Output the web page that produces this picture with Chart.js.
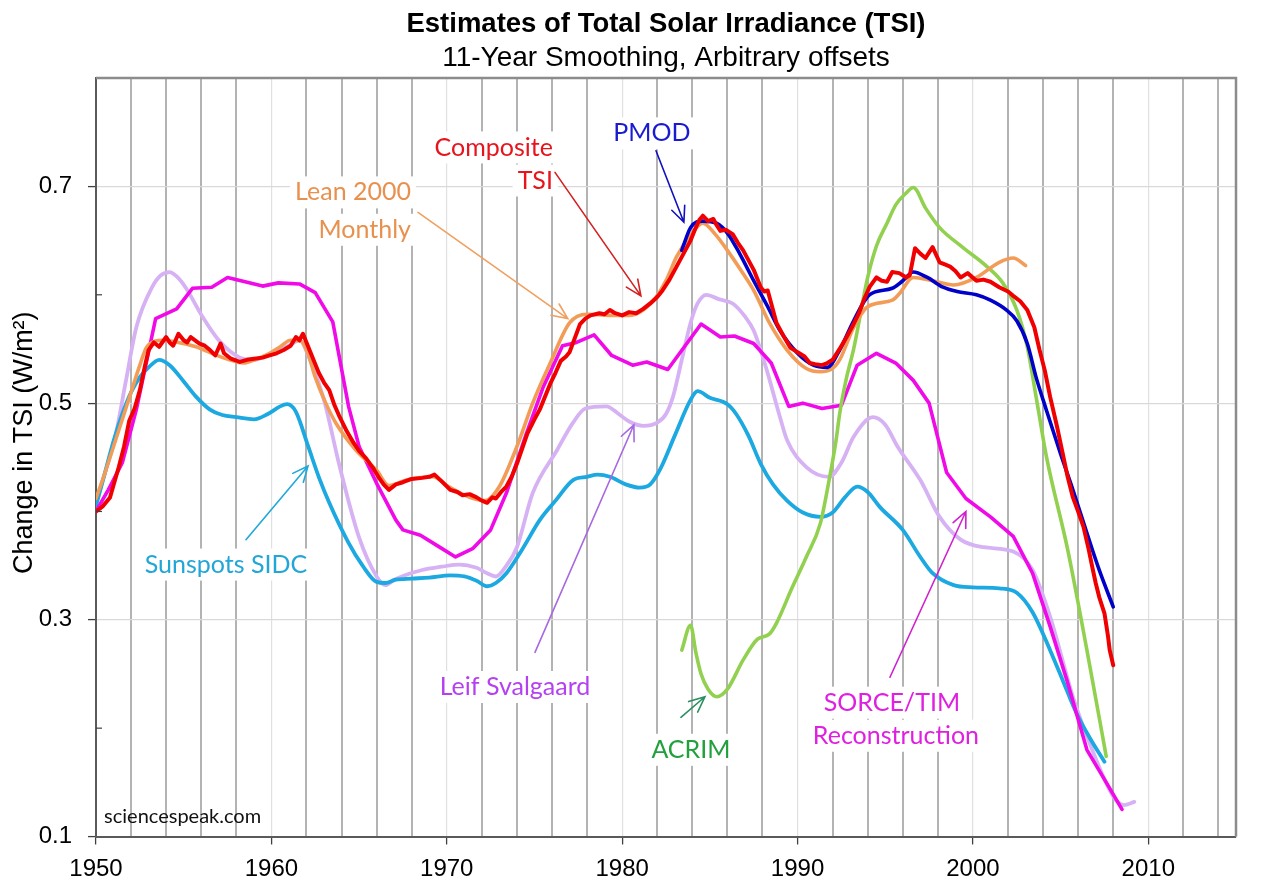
<!DOCTYPE html>
<html>
<head>
<meta charset="utf-8">
<title>Estimates of Total Solar Irradiance (TSI)</title>
<script src="https://cdn.jsdelivr.net/npm/chart.js@4.4.1/dist/chart.umd.min.js"></script>
<style>
  html, body { margin: 0; padding: 0; background: #ffffff; }
  #wrap { width: 1280px; height: 886px; }
</style>
</head>
<body>
<div id="wrap"><canvas id="chart" width="1280" height="886"></canvas></div>
<script>
// ---------------- data ----------------
const xTickLabels = ['1950', '1960', '1970', '1980', '1990', '2000', '2010'];
const yTickLabels = ['0.1', '0.3', '0.5', '0.7'];

const compositeYears = [1950, 1950.4, 1950.8, 1951.1, 1951.3, 1951.6, 1951.9, 1952.2, 1952.5, 1952.8, 1953, 1953.3, 1953.6, 1954, 1954.2, 1954.4, 1954.7, 1955, 1955.2, 1955.4, 1955.9, 1956.2, 1956.5, 1956.8, 1957.1, 1957.3, 1957.7, 1958.2, 1958.6, 1959, 1959.5, 1959.9, 1960.3, 1960.7, 1961.1, 1961.4, 1961.6, 1961.8, 1962.1, 1962.4, 1962.7, 1963, 1963.3, 1963.6, 1963.9, 1964.3, 1964.7, 1965, 1965.4, 1965.8, 1966.1, 1966.4, 1966.7, 1967.1, 1967.5, 1968, 1968.6, 1969, 1969.3, 1969.7, 1970.2, 1970.6, 1970.9, 1971.3, 1971.7, 1972, 1972.3, 1972.6, 1972.8, 1973.1, 1973.4, 1973.7, 1974, 1974.3, 1974.6, 1975, 1975.3, 1975.6, 1975.9, 1976.2, 1976.5, 1976.8, 1977, 1977.3, 1977.6, 1977.9, 1978.2, 1978.7, 1979, 1979.3, 1979.6, 1980, 1980.4, 1980.8, 1981.2, 1981.6, 1982, 1982.3, 1982.7, 1983.1, 1983.5, 1983.9, 1984.2, 1984.4, 1984.6, 1984.9, 1985.2, 1985.4, 1985.6, 1985.9, 1986.3, 1986.6, 1986.9, 1987.2, 1987.5, 1987.9, 1988.1, 1988.3, 1988.5, 1988.8, 1989.2, 1989.6, 1989.9, 1990.1, 1990.4, 1990.7, 1991, 1991.4, 1991.7, 1992, 1992.4, 1992.8, 1993.1, 1993.5, 1993.8, 1994.1, 1994.5, 1994.8, 1995.1, 1995.4, 1995.8, 1996.2, 1996.4, 1996.7, 1997, 1997.3, 1997.7, 1998.1, 1998.4, 1998.7, 1999, 1999.3, 1999.7, 2000.2, 2000.6, 2001, 2001.5, 2002, 2002.3, 2002.7, 2003.1, 2003.5, 2003.8, 2004.1, 2004.4, 2004.8, 2005.1, 2005.4, 2005.7, 2006, 2006.3, 2006.6, 2006.8, 2007, 2007.2, 2007.5, 2007.7, 2007.8, 2008];
const compositeValues = [0.400, 0.405, 0.413, 0.430, 0.441, 0.460, 0.484, 0.495, 0.512, 0.535, 0.549, 0.556, 0.552, 0.561, 0.556, 0.553, 0.564, 0.558, 0.556, 0.561, 0.555, 0.553, 0.549, 0.544, 0.555, 0.546, 0.541, 0.538, 0.540, 0.541, 0.542, 0.544, 0.546, 0.549, 0.553, 0.561, 0.558, 0.564, 0.552, 0.540, 0.528, 0.519, 0.512, 0.498, 0.487, 0.474, 0.463, 0.456, 0.449, 0.440, 0.432, 0.425, 0.420, 0.425, 0.427, 0.430, 0.431, 0.432, 0.434, 0.428, 0.420, 0.418, 0.415, 0.416, 0.413, 0.410, 0.408, 0.413, 0.412, 0.418, 0.423, 0.432, 0.444, 0.458, 0.472, 0.485, 0.494, 0.506, 0.518, 0.528, 0.539, 0.543, 0.547, 0.560, 0.573, 0.578, 0.581, 0.583, 0.582, 0.586, 0.583, 0.581, 0.584, 0.583, 0.587, 0.592, 0.598, 0.604, 0.614, 0.626, 0.638, 0.650, 0.662, 0.669, 0.673, 0.668, 0.670, 0.664, 0.659, 0.660, 0.656, 0.648, 0.641, 0.632, 0.623, 0.607, 0.603, 0.604, 0.592, 0.574, 0.562, 0.551, 0.548, 0.546, 0.543, 0.537, 0.536, 0.535, 0.537, 0.540, 0.550, 0.561, 0.570, 0.583, 0.596, 0.607, 0.616, 0.613, 0.612, 0.621, 0.620, 0.616, 0.618, 0.643, 0.638, 0.634, 0.644, 0.630, 0.628, 0.626, 0.622, 0.616, 0.620, 0.613, 0.614, 0.612, 0.607, 0.603, 0.599, 0.594, 0.586, 0.570, 0.549, 0.530, 0.506, 0.478, 0.455, 0.432, 0.413, 0.400, 0.386, 0.365, 0.349, 0.334, 0.321, 0.306, 0.285, 0.272, 0.258];

const pmodYears = [1983.4, 1983.9, 1984.6, 1985.4, 1986, 1986.7, 1987.5, 1988.3, 1989, 1990, 1990.9, 1991.7, 1992.4, 1993.2, 1994.1, 1995.4, 1996, 1996.6, 1997.4, 1998.3, 1999.1, 2000.2, 2001, 2001.9, 2002.5, 2003.1, 2003.6, 2004.2, 2005, 2005.7, 2006.5, 2007.2, 2008];
const pmodValues = [0.641, 0.662, 0.668, 0.666, 0.657, 0.638, 0.613, 0.589, 0.567, 0.546, 0.535, 0.533, 0.549, 0.576, 0.600, 0.606, 0.613, 0.621, 0.616, 0.607, 0.603, 0.600, 0.595, 0.586, 0.576, 0.555, 0.524, 0.493, 0.453, 0.420, 0.380, 0.346, 0.312];

const leanYears = [1950, 1950.5, 1951, 1951.5, 1952, 1952.5, 1952.9, 1953.8, 1954.7, 1955.7, 1956.6, 1957.6, 1958.4, 1959.2, 1959.9, 1960.5, 1961.1, 1961.7, 1962.1, 1962.5, 1963.1, 1963.7, 1964.8, 1966, 1966.7, 1967.7, 1969.2, 1970.1, 1971.3, 1972.2, 1973, 1974, 1974.9, 1975.9, 1977, 1978, 1979.3, 1980.4, 1981.8, 1982.5, 1983.1, 1983.9, 1984.6, 1985.3, 1986, 1986.8, 1987.5, 1988.4, 1989.4, 1990.5, 1991.3, 1991.9, 1992.4, 1993.2, 1994, 1995.4, 1995.8, 1996.6, 1997.7, 1998.9, 2000.2, 2001.5, 2002.3, 2003];
const leanValues = [0.412, 0.435, 0.460, 0.485, 0.510, 0.535, 0.552, 0.558, 0.556, 0.552, 0.546, 0.540, 0.537, 0.541, 0.546, 0.552, 0.558, 0.557, 0.545, 0.524, 0.500, 0.481, 0.457, 0.438, 0.424, 0.429, 0.432, 0.423, 0.413, 0.410, 0.423, 0.460, 0.500, 0.537, 0.574, 0.582, 0.581, 0.581, 0.595, 0.613, 0.635, 0.655, 0.666, 0.656, 0.641, 0.622, 0.604, 0.574, 0.549, 0.532, 0.529, 0.531, 0.540, 0.570, 0.589, 0.595, 0.601, 0.616, 0.613, 0.609, 0.616, 0.630, 0.634, 0.627];

const acrimYears = [1983.4, 1983.9, 1984.2, 1984.5, 1984.9, 1985.4, 1986, 1986.9, 1987.7, 1988.4, 1988.8, 1989.7, 1990.5, 1991.3, 1991.8, 1992.2, 1992.4, 1992.76, 1993.2, 1994, 1994.5, 1995.1, 1995.6, 1996.2, 1996.6, 1997.3, 1998.1, 1999.4, 2000.8, 2001.7, 2002.5, 2003.1, 2003.6, 2004.2, 2005.4, 2006.5, 2007.6];
const acrimValues = [0.272, 0.295, 0.270, 0.250, 0.236, 0.229, 0.236, 0.263, 0.282, 0.287, 0.297, 0.330, 0.358, 0.389, 0.429, 0.466, 0.490, 0.521, 0.550, 0.616, 0.645, 0.666, 0.683, 0.694, 0.699, 0.680, 0.662, 0.644, 0.626, 0.611, 0.586, 0.552, 0.506, 0.450, 0.365, 0.272, 0.174];

const sorceYears = [1950, 1950.7, 1951.5, 1952.3, 1953.4, 1954.6, 1955.5, 1956.6, 1957.5, 1958.5, 1959.5, 1960.4, 1961.6, 1962.5, 1963.5, 1964.4, 1965, 1966, 1967.1, 1967.5, 1968.5, 1969.5, 1970.5, 1971.5, 1972.5, 1973.4, 1974.5, 1975.5, 1976.6, 1977.4, 1978.4, 1979.4, 1980.6, 1981.4, 1982.6, 1984.5, 1985.6, 1986.4, 1987.5, 1988.5, 1989.5, 1990.3, 1991.4, 1992.5, 1993.4, 1994.5, 1995.6, 1996.6, 1997.5, 1998.5, 1999.6, 2001, 2002.3, 2003.4, 2004.4, 2005.4, 2006.5, 2007.6, 2008.5];
const sorceValues = [0.400, 0.420, 0.445, 0.494, 0.578, 0.587, 0.606, 0.607, 0.616, 0.612, 0.608, 0.611, 0.610, 0.602, 0.575, 0.497, 0.460, 0.426, 0.392, 0.383, 0.378, 0.368, 0.358, 0.366, 0.383, 0.417, 0.470, 0.515, 0.553, 0.556, 0.563, 0.544, 0.535, 0.538, 0.531, 0.573, 0.561, 0.562, 0.555, 0.537, 0.497, 0.500, 0.495, 0.498, 0.535, 0.546, 0.537, 0.521, 0.500, 0.436, 0.412, 0.395, 0.377, 0.343, 0.294, 0.242, 0.180, 0.150, 0.125];

const sidcYears = [1950, 1950.5, 1951, 1951.5, 1952, 1952.5, 1953, 1953.6, 1954.2, 1955, 1955.7, 1956.5, 1957.2, 1958, 1959, 1959.8, 1960.5, 1960.9, 1961.4, 1962.1, 1962.7, 1963.3, 1964.4, 1965.2, 1966, 1966.5, 1967.1, 1968, 1969, 1970.2, 1971, 1971.7, 1972.3, 1972.8, 1973.4, 1974.3, 1975.3, 1976.2, 1977.2, 1978, 1978.6, 1979.3, 1980.2, 1981, 1981.6, 1982.2, 1983, 1983.9, 1984.3, 1985, 1986, 1986.5, 1987.2, 1987.9, 1988.6, 1989.4, 1990.3, 1991.3, 1992, 1992.7, 1993.4, 1994, 1994.7, 1996, 1997, 1997.7, 1998.9, 2000, 2001.5, 2002.5, 2003.4, 2004.4, 2005.1, 2005.9, 2006.7, 2007.5];
const sidcValues = [0.405, 0.435, 0.465, 0.490, 0.510, 0.524, 0.533, 0.540, 0.535, 0.520, 0.506, 0.494, 0.489, 0.487, 0.485, 0.490, 0.497, 0.499, 0.492, 0.460, 0.432, 0.408, 0.371, 0.350, 0.335, 0.334, 0.337, 0.338, 0.339, 0.341, 0.340, 0.336, 0.331, 0.334, 0.343, 0.365, 0.392, 0.410, 0.429, 0.432, 0.434, 0.432, 0.425, 0.422, 0.425, 0.440, 0.470, 0.503, 0.511, 0.505, 0.499, 0.490, 0.470, 0.444, 0.425, 0.410, 0.399, 0.395, 0.399, 0.413, 0.423, 0.418, 0.404, 0.383, 0.358, 0.343, 0.332, 0.330, 0.329, 0.325, 0.307, 0.272, 0.245, 0.214, 0.190, 0.169];

const leifYears = [1950, 1950.5, 1951.1, 1951.7, 1952.3, 1953.2, 1953.7, 1954.2, 1954.6, 1955.1, 1956.1, 1957, 1958.2, 1959, 1960, 1961, 1961.6, 1962.2, 1963, 1963.9, 1965, 1966, 1966.5, 1967, 1968.6, 1969.7, 1970.7, 1971.7, 1972.3, 1972.8, 1973.4, 1974, 1974.9, 1976.3, 1977.2, 1977.9, 1979.1, 1979.8, 1980.4, 1981.2, 1982, 1982.5, 1982.9, 1983.4, 1983.9, 1984.3, 1984.8, 1985.5, 1986.3, 1987, 1987.5, 1988.2, 1989, 1989.4, 1990.5, 1991.8, 1992.5, 1993.2, 1994.3, 1995, 1995.7, 1997, 1998.1, 1999.3, 2000.6, 2002.3, 2003.4, 2004.4, 2005.7, 2006.8, 2008, 2008.6, 2009.2];
const leifValues = [0.408, 0.435, 0.469, 0.520, 0.570, 0.607, 0.618, 0.621, 0.617, 0.607, 0.579, 0.558, 0.542, 0.540, 0.546, 0.553, 0.558, 0.540, 0.503, 0.441, 0.376, 0.340, 0.332, 0.337, 0.346, 0.349, 0.351, 0.348, 0.343, 0.340, 0.350, 0.367, 0.417, 0.457, 0.482, 0.495, 0.497, 0.490, 0.483, 0.479, 0.482, 0.490, 0.506, 0.540, 0.574, 0.592, 0.600, 0.596, 0.592, 0.580, 0.567, 0.533, 0.487, 0.466, 0.441, 0.432, 0.445, 0.469, 0.487, 0.480, 0.460, 0.429, 0.395, 0.374, 0.367, 0.363, 0.346, 0.303, 0.229, 0.180, 0.137, 0.129, 0.132];

// ---------------- annotations (placed in data units) ----------------
const noteTexts = [
  { text: 'Composite', x: 1976.05, y: 0.736, color: '#e8141c', align: 'right' },
  { text: 'TSI', x: 1976.05, y: 0.7055, color: '#e8141c', align: 'right' },
  { text: 'PMOD', x: 1981.7, y: 0.749, color: '#1a1ad0', align: 'center' },
  { text: 'Lean 2000', x: 1967.96, y: 0.6945, color: '#e8914e', align: 'right' },
  { text: 'Monthly', x: 1967.96, y: 0.660, color: '#e8914e', align: 'right' },
  { text: 'Sunspots SIDC', x: 1957.41, y: 0.351, color: '#22a6d8', align: 'center' },
  { text: 'Leif Svalgaard', x: 1973.89, y: 0.238, color: '#b440f0', align: 'center' },
  { text: 'ACRIM', x: 1983.92, y: 0.180, color: '#22a03c', align: 'center' },
  { text: 'SORCE/TIM', x: 1995.38, y: 0.2235, color: '#e020e0', align: 'center' },
  { text: 'Reconstruction', x: 1995.61, y: 0.193, color: '#e020e0', align: 'center' }
];
const noteArrows = [
  { from: [1976.17, 0.713], to: [1981.07, 0.599], color: '#d42020' },
  { from: [1981.93, 0.733], to: [1983.52, 0.667], color: '#1010c0' },
  { from: [1968.36, 0.676], to: [1976.9, 0.578], color: '#f0a060' },
  { from: [1958.55, 0.374], to: [1962.09, 0.442], color: '#20a8d8' },
  { from: [1975.03, 0.270], to: [1980.67, 0.480], color: '#a868e0' },
  { from: [1983.35, 0.210], to: [1984.72, 0.229], color: '#2a9060' },
  { from: [1995.27, 0.247], to: [1999.6, 0.400], color: '#d020d0' }
];
const watermark = { text: 'sciencespeak.com', x: 1950.46, y: 0.118 };
const yAxisTitle = { text: 'Change in TSI (W/m²)', y: 0.4635 };

// ---------------- chart ----------------
const NOTE_FONT = '25px Lato';
const AXIS_FONT = 'Liberation Sans';
const TRANSPARENT = 'rgba(0,0,0,0)';

function pts(xs, ys) { return xs.map((x, i) => ({ x: x, y: ys[i] })); }
function yLabel(v) { return (Math.round(v * 10) / 10).toFixed(1); }

const lineBase = { pointRadius: 0, pointHoverRadius: 0, fill: false, borderCapStyle: 'round', borderJoinStyle: 'round' };

const datasets = [
  Object.assign({ label: 'Composite TSI', data: pts(compositeYears, compositeValues), borderColor: '#f00000', borderWidth: 4, tension: 0 }, lineBase),
  Object.assign({ label: 'PMOD', data: pts(pmodYears, pmodValues), borderColor: '#0000c8', borderWidth: 3.6, cubicInterpolationMode: 'monotone' }, lineBase),
  Object.assign({ label: 'Lean 2000 Monthly', data: pts(leanYears, leanValues), borderColor: '#f29c58', borderWidth: 3.6, cubicInterpolationMode: 'monotone' }, lineBase),
  Object.assign({ label: 'ACRIM', data: pts(acrimYears, acrimValues), borderColor: '#92d050', borderWidth: 3.6, cubicInterpolationMode: 'monotone' }, lineBase),
  Object.assign({ label: 'SORCE/TIM Reconstruction', data: pts(sorceYears, sorceValues), borderColor: '#f00ae8', borderWidth: 3.6, tension: 0 }, lineBase),
  Object.assign({ label: 'Sunspots SIDC', data: pts(sidcYears, sidcValues), borderColor: '#1ca8e0', borderWidth: 3.8, cubicInterpolationMode: 'monotone' }, lineBase),
  Object.assign({ label: 'Leif Svalgaard', data: pts(leifYears, leifValues), borderColor: '#d6b2f4', borderWidth: 3.8, cubicInterpolationMode: 'monotone' }, lineBase)
];

function noteBox(ctx, n, px, w) {
  if (n.align === 'right') return px - w;
  return px - w / 2;
}

const decorPlugin = {
  id: 'decor',
  beforeDatasetsDraw(chart) {
    const { ctx, scales: { x, y } } = chart;
    ctx.save();
    ctx.font = NOTE_FONT;
    ctx.fillStyle = '#ffffff';
    noteTexts.forEach(n => {
      const w = ctx.measureText(n.text).width;
      const px = x.getPixelForValue(n.x), py = y.getPixelForValue(n.y);
      const left = noteBox(ctx, n, px, w);
      ctx.fillRect(left - 5, py - 16, w + 10, 32);
    });
    ctx.restore();
  },
  afterDatasetsDraw(chart) {
    const { ctx, chartArea: a, scales: { x, y } } = chart;
    ctx.save();
    // top and right frame
    ctx.strokeStyle = '#8c8c8c';
    ctx.lineWidth = 2.5;
    ctx.beginPath();
    ctx.moveTo(a.left, a.top);
    ctx.lineTo(a.right, a.top);
    ctx.lineTo(a.right, a.bottom);
    ctx.stroke();
    // minor inner ticks on the value axis
    ctx.strokeStyle = '#404040';
    ctx.lineWidth = 1.2;
    [0.2, 0.4, 0.6].forEach(v => {
      const py = y.getPixelForValue(v);
      ctx.beginPath();
      ctx.moveTo(a.left, py);
      ctx.lineTo(a.left + 6, py);
      ctx.stroke();
    });
    // arrows
    noteArrows.forEach(ar => {
      const x0 = x.getPixelForValue(ar.from[0]), y0 = y.getPixelForValue(ar.from[1]);
      const x1 = x.getPixelForValue(ar.to[0]), y1 = y.getPixelForValue(ar.to[1]);
      const ang = Math.atan2(y1 - y0, x1 - x0);
      const hl = 17, spread = 0.42;
      ctx.strokeStyle = ar.color;
      ctx.lineWidth = 1.6;
      ctx.lineCap = 'round';
      ctx.beginPath();
      ctx.moveTo(x0, y0);
      ctx.lineTo(x1, y1);
      ctx.moveTo(x1 - hl * Math.cos(ang - spread), y1 - hl * Math.sin(ang - spread));
      ctx.lineTo(x1, y1);
      ctx.lineTo(x1 - hl * Math.cos(ang + spread), y1 - hl * Math.sin(ang + spread));
      ctx.stroke();
    });
    // label texts
    ctx.font = NOTE_FONT;
    ctx.textBaseline = 'middle';
    noteTexts.forEach(n => {
      ctx.fillStyle = n.color;
      ctx.textAlign = n.align;
      ctx.fillText(n.text, x.getPixelForValue(n.x), y.getPixelForValue(n.y));
    });
    // watermark
    ctx.font = '20px Lato';
    ctx.textAlign = 'left';
    ctx.fillStyle = '#111111';
    ctx.fillText(watermark.text, x.getPixelForValue(watermark.x), y.getPixelForValue(watermark.y));
    ctx.restore();
  },
  afterDraw(chart) {
    // value-axis title
    const { ctx, scales: { y } } = chart;
    ctx.save();
    ctx.translate(25, y.getPixelForValue(yAxisTitle.y));
    ctx.rotate(-Math.PI / 2);
    ctx.font = '27px ' + AXIS_FONT;
    ctx.fillStyle = '#000000';
    ctx.textAlign = 'center';
    ctx.textBaseline = 'middle';
    ctx.fillText(yAxisTitle.text, 0, 0);
    ctx.restore();
  }
};

new Chart(document.getElementById('chart'), {
  type: 'line',
  data: { datasets: datasets },
  plugins: [decorPlugin],
  options: {
    responsive: false,
    animation: false,
    events: [],
    layout: { padding: { left: 0, right: 44, top: 0, bottom: 0 } },
    plugins: {
      legend: { display: false },
      tooltip: { enabled: false },
      title: {
        display: true, fullSize: false,
        text: 'Estimates of Total Solar Irradiance (TSI)',
        color: '#000000',
        font: { family: AXIS_FONT, size: 27.5, weight: 'bold', lineHeight: 1.2 },
        padding: { top: 8, bottom: 0 }
      },
      subtitle: {
        display: true, fullSize: false,
        text: '11-Year Smoothing, Arbitrary offsets',
        color: '#000000',
        font: { family: AXIS_FONT, size: 28, lineHeight: 1.2 },
        padding: { top: 0, bottom: 3.5 }
      }
    },
    scales: {
      x: {
        type: 'linear', min: 1950, max: 2015,
        afterFit(s) { s.height = 49.5; },
        afterBuildTicks(s) {
          const t = [];
          for (let v = 1950; v <= 2014; v += 2) t.push({ value: v });
          s.ticks = t;
        },
        ticks: {
          autoSkip: false, maxRotation: 0, minRotation: 0, padding: 10,
          color: '#000000', font: { family: AXIS_FONT, size: 24 },
          callback: v => (xTickLabels.includes(String(v)) ? String(v) : '')
        },
        grid: {
          color: c => (c.tick && xTickLabels.includes(String(c.tick.value)) ? '#e0e0e0' : '#b3b3b3'),
          lineWidth: c => (c.tick && xTickLabels.includes(String(c.tick.value)) ? 1.2 : 2),
          tickLength: 8,
          tickWidth: 1.3,
          tickColor: c => (c.tick && xTickLabels.includes(String(c.tick.value)) ? '#404040' : TRANSPARENT)
        },
        border: { display: true, color: '#5a5a5a', width: 2 }
      },
      y: {
        min: 0.1, max: 0.8,
        afterFit(s) { s.width = 96; },
        afterBuildTicks(s) {
          const t = [];
          for (let k = 1; k <= 8; k++) t.push({ value: k / 10 });
          s.ticks = t;
        },
        ticks: {
          padding: 16, color: '#000000', font: { family: AXIS_FONT, size: 24 },
          callback: v => (yTickLabels.includes(yLabel(v)) ? yLabel(v) : '')
        },
        grid: {
          color: c => (c.tick && ['0.3', '0.5', '0.7'].includes(yLabel(c.tick.value)) ? '#d9d9d9' : TRANSPARENT),
          lineWidth: 1.2,
          tickLength: 8,
          tickWidth: 1.3,
          tickColor: c => (c.tick && yTickLabels.includes(yLabel(c.tick.value)) ? '#404040' : TRANSPARENT)
        },
        border: { display: true, color: '#5a5a5a', width: 2 },
        title: { display: false, text: 'Change in TSI (W/m²)' }
      }
    }
  }
});
</script>
</body>
</html>
